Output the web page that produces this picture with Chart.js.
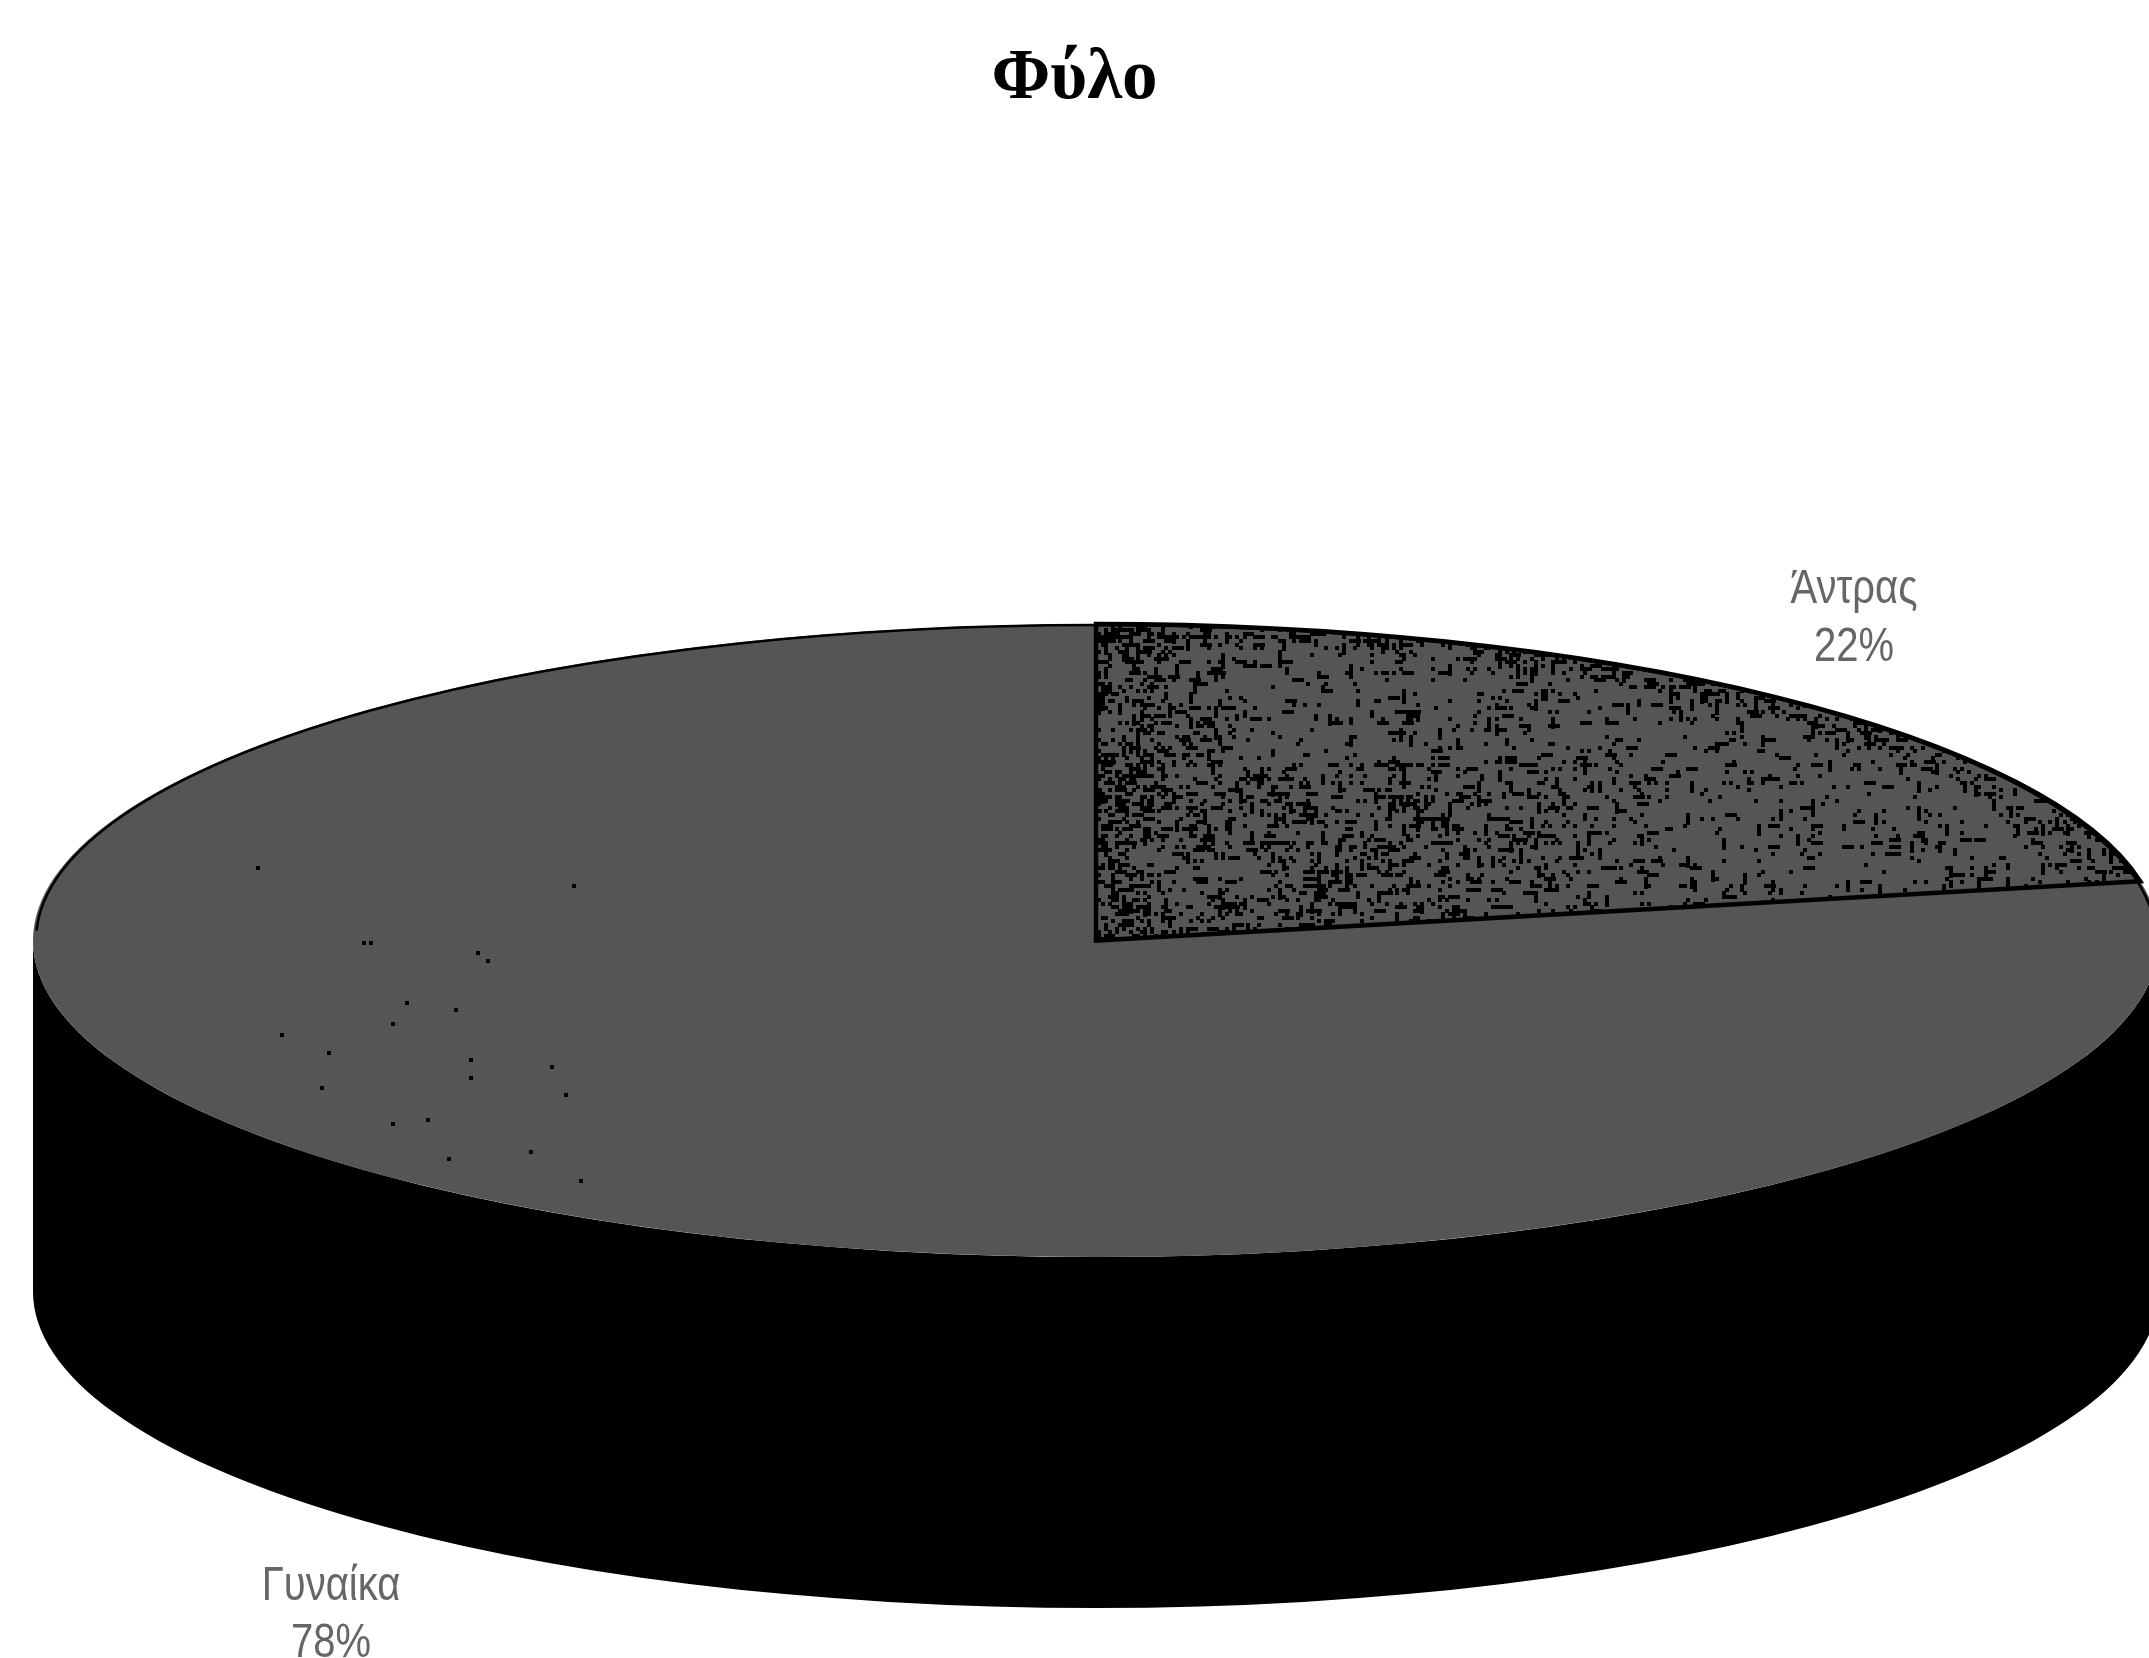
<!DOCTYPE html>
<html>
<head>
<meta charset="utf-8">
<title>Φύλο</title>
<script src="https://cdn.jsdelivr.net/npm/chart.js@4/dist/chart.umd.min.js"></script>
<style>
  html, body { margin: 0; padding: 0; background: #fff; overflow: hidden; }
  canvas { display: block; }
</style>
</head>
<body>
<canvas id="myChart" width="2149" height="1658"></canvas>
<script>
var chartTitle = "Φύλο";
var categories = ["Άντρας", "Γυναίκα"];
var percentages = [22, 78];

// the flat pie gets squashed into this ellipse, the wall hangs below it
var disc = { x: 1096, y: 940.5, rx: 1063, ry: 316.5, depth: 351 };
var labelSpots = [
    { x: 1854, y: 590, gap: 58 },
    { x: 331, y: 1587, gap: 57 }
];

var faceGrey = "#555555";

// small integer hash so the speckle comes out the same on every load
function hash(a, b) {
    var h = (a * 374761393 + b * 668265263) | 0;
    h = Math.imul(h ^ (h >>> 13), 1274126177);
    h = h ^ (h >>> 16);
    return (h >>> 0) / 4294967296;
}

function stipple(densityAt, dashes) {
    var tile = document.createElement("canvas");
    tile.width = 2149;
    tile.height = 1658;
    var t = tile.getContext("2d");
    t.fillStyle = faceGrey;
    t.fillRect(0, 0, tile.width, tile.height);
    t.fillStyle = "#000";
    var cell = 3.55;
    for (var j = 0; j * cell < tile.height; j++) {
        for (var i = 0; i * cell < tile.width; i++) {
            var px = i * cell, py = j * cell;
            // coarse blotches, then dashes a few cells long
            var blotch = 0.55 + 0.9 * hash(Math.floor(i / 9), Math.floor(j / 9) + 500);
            if (hash(i, j) < densityAt(px, py) * blotch) {
                var run = hash(i + 77, j) < dashes ? 3 : 1;
                var tall = hash(i, j + 77) < 0.4;
                t.fillRect(Math.round(px), Math.round(py),
                    Math.ceil(cell) * (tall ? 1 : run), Math.ceil(cell) * (tall ? run : 1));
            }
        }
    }
    return document.getElementById("myChart").getContext("2d").createPattern(tile, "no-repeat");
}

var manFill = stipple(function (x, y) {
    var d = 0.15 - 0.12 * (x - 1100) / 1050;
    if (x < 1170) d += 0.08;
    if (y > 760 && x < 1650) d += 0.05;
    if (y < 760 && x > 1220 && x < 1480) d -= 0.05;
    // denser close to the outer rim
    var ex = (x - disc.x) / disc.rx, ey = (y - disc.y) / disc.ry;
    if (Math.sqrt(ex * ex + ey * ey) > 0.95) d += 0.15;
    return Math.max(d, 0.02);
}, 0.25);
var womanFill = stipple(function (x, y) {
    return (x > 245 && x < 580 && y > 860 && y < 1215) ? 0.0022 : 0;
}, 0.05);

var pie3d = {
    id: "pie3d",
    beforeDatasetsDraw: function (chart) {
        var ctx = chart.ctx;
        var arc = chart.getDatasetMeta(0).data[0];
        var sx = disc.rx / arc.outerRadius, sy = disc.ry / arc.outerRadius;
        var m = new DOMMatrix().translate(disc.x, disc.y).scale(sx, sy).translate(-arc.x, -arc.y);
        var inv = m.inverse();
        manFill.setTransform(inv);
        womanFill.setTransform(inv);

        // side wall
        ctx.save();
        ctx.fillStyle = "#000";
        ctx.beginPath();
        ctx.ellipse(disc.x, disc.y, disc.rx, disc.ry, 0, 0, Math.PI);
        ctx.ellipse(disc.x, disc.y + disc.depth, disc.rx, disc.ry, 0, Math.PI, 0, true);
        ctx.closePath();
        ctx.fill();
        ctx.restore();

        ctx.save();
        ctx.imageSmoothingEnabled = false;
        ctx.setTransform(ctx.getTransform().multiply(m));
    },
    afterDatasetsDraw: function (chart) {
        var ctx = chart.ctx;
        ctx.restore();

        var man = chart.getDatasetMeta(0).data[0];
        ctx.save();
        ctx.strokeStyle = "#000";
        ctx.lineJoin = "miter";
        // thin rim along the back of the disc
        ctx.lineWidth = 2.5;
        ctx.beginPath();
        ctx.ellipse(disc.x, disc.y, disc.rx - 3, disc.ry - 1, 0, Math.PI * 1.01, Math.PI * 2);
        ctx.stroke();
        // outline of the first slice
        ctx.lineWidth = 4.5;
        ctx.beginPath();
        ctx.moveTo(disc.x, disc.y);
        ctx.ellipse(disc.x, disc.y, disc.rx, disc.ry, 0, man.startAngle, man.endAngle);
        ctx.closePath();
        ctx.stroke();
        ctx.restore();
    },
    afterDraw: function (chart) {
        var ctx = chart.ctx;
        ctx.save();
        ctx.fillStyle = "#666666";
        ctx.font = '40px "Liberation Sans"';
        ctx.textAlign = "center";
        ctx.textBaseline = "middle";
        categories.forEach(function (name, i) {
            var spot = labelSpots[i];
            [[name, 0], [percentages[i] + "%", spot.gap]].forEach(function (row) {
                ctx.save();
                ctx.translate(spot.x, spot.y + row[1]);
                ctx.scale(1, 1.2);
                ctx.fillText(row[0], 0, 0);
                ctx.restore();
            });
        });
        ctx.restore();
    }
};

var ctx = document.getElementById("myChart").getContext("2d");
var myChart = new Chart(ctx, {
    type: "pie",
    data: {
        labels: categories,
        datasets: [{
            data: percentages,
            backgroundColor: [manFill, womanFill],
            borderWidth: 0,
            clip: false
        }]
    },
    options: {
        responsive: false,
        animation: false,
        events: [],
        plugins: {
            legend: { display: false },
            tooltip: { enabled: false },
            title: {
                display: true,
                text: chartTitle,
                color: "#000",
                font: { family: '"Liberation Serif"', size: 71, weight: "bold" },
                padding: { top: 37, bottom: 20 }
            }
        }
    },
    plugins: [pie3d]
});
</script>
</body>
</html>
